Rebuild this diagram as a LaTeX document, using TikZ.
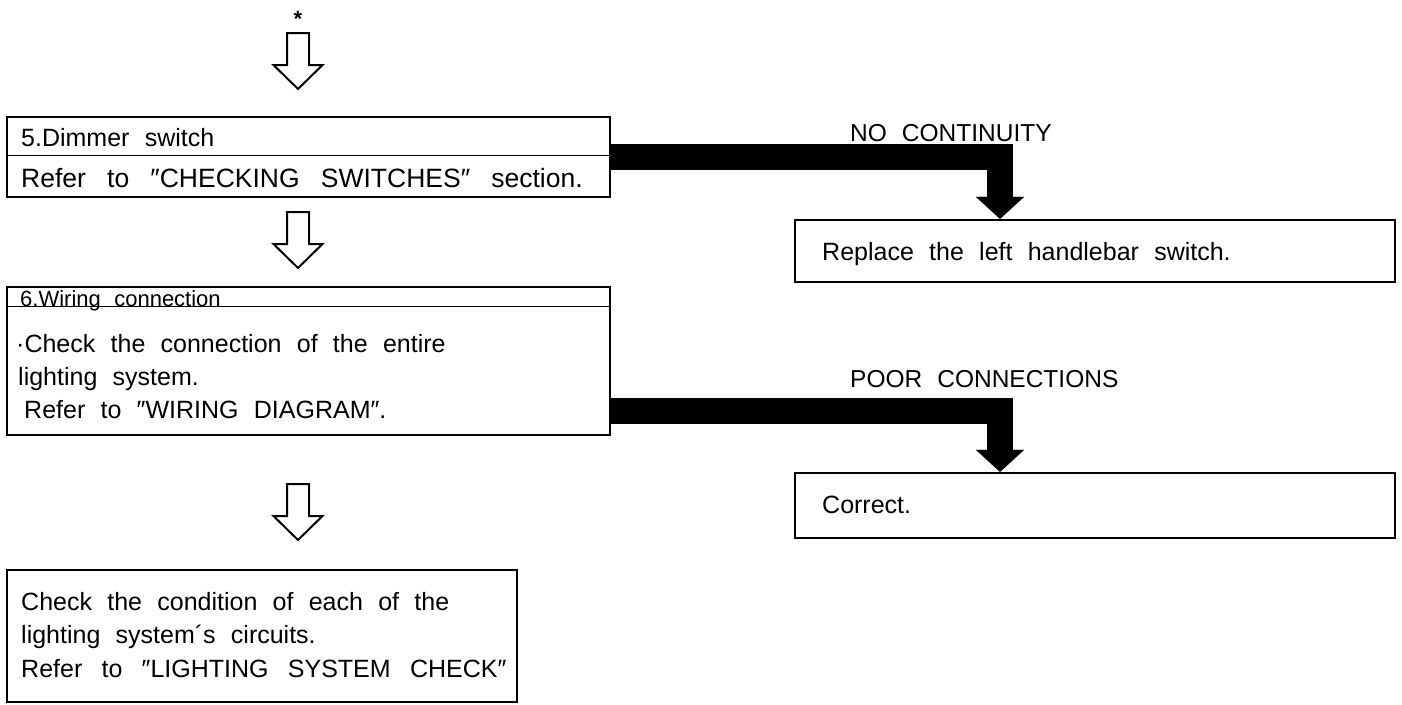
\documentclass[tikz,border=0pt]{standalone}
\usepackage{fontspec}
\setmainfont[WordSpace={2.2}]{Liberation Sans}
\usetikzlibrary{arrows.meta}
\newcommand{\wsp}{\hspace{5pt}}
\begin{document}
\begin{tikzpicture}[x=1pt,y=-1pt,
  box/.style={draw, line width=2.2pt, inner sep=0pt},
  divider/.style={line width=1pt},
  txt/.style={anchor=base west, inner sep=0pt, font=\fontsize{25}{30}\selectfont},
  bigtxt/.style={anchor=base west, inner sep=0pt, font=\fontsize{26.5}{30}\selectfont},
  hdr/.style={anchor=base west, inner sep=0pt, font=\fontsize{22}{28}\selectfont},
  lbl/.style={anchor=base west, inner sep=0pt, font=\fontsize{24.5}{28}\selectfont},
  bigarrow/.style={line width=26pt, line join=miter,
    -{Triangle[width=48pt,length=22pt,line width=0.01pt]}},
  hollow/.pic={\draw[line width=2pt, line join=miter]
    (-11,0) -- (11,0) -- (11,32) -- (24.5,32) -- (0,56) -- (-24.5,32) -- (-11,32) -- cycle;}]
\useasboundingbox (0,0) rectangle (1402,704);

% top marker and hollow arrows
\node[anchor=base, inner sep=0pt, font=\fontsize{22}{22}\selectfont\bfseries] (star) at (298,26) {*};
\pic at (298,33) {hollow};
\pic at (298,212) {hollow};
\pic at (298,484) {hollow};

% box 1
\node[box, minimum width=603pt, minimum height=80pt] (b1) at (308.5,157) {};
\draw[divider] (b1.west |- 0,155) -- (b1.east |- 0,155);
\node[txt] (t1a) at (21,146) {5.Dimmer switch};
\node[bigtxt] (t1b) at (21,187) {Refer\wsp{} to\wsp{} ″CHECKING\wsp{} SWITCHES″\wsp{} section.};

% box 2
\node[box, minimum width=603pt, minimum height=148pt] (b2) at (308.5,361) {};
\draw[divider] (b2.west |- 0,306) -- (b2.east |- 0,306);
\node[hdr] (t2a) at (20,306) {6.Wiring connection};
\node[txt] (t2b) at (16,352) {·Check the connection of the entire};
\node[txt] (t2c) at (18,385) {lighting system.};
\node[txt] (t2d) at (24,418) {Refer to ″WIRING DIAGRAM″.};

% box 3
\node[box, minimum width=510pt, minimum height=132pt] (b3) at (262,636) {};
\node[txt] (t3a) at (21,610) {Check the condition of each of the};
\node[txt] (t3b) at (21,643) {lighting system´s circuits.};
\node[txt] (t3c) at (21,677) {Refer\hspace{4pt} to\hspace{4pt} ″LIGHTING\hspace{4pt} SYSTEM\hspace{4pt} CHECK″};

% right boxes
\node[box, minimum width=600pt, minimum height=62pt] (r1) at (1095,251) {};
\node[txt] (tr1) at (822,260) {Replace the left handlebar switch.};
\node[box, minimum width=600pt, minimum height=65pt] (r2) at (1095,505.5) {};
\node[txt] (tr2) at (822,513) {Correct.};

% labels
\node[lbl] (l1) at (850,141) {NO CONTINUITY};
\node[lbl] (l2) at (850,387) {POOR CONNECTIONS};

% thick connectors
\draw[bigarrow] (b1.east) -| ([xshift=-95pt]r1.north);
\draw[bigarrow] ([yshift=-49.5pt]b2.east) -| ([xshift=-95pt]r2.north);
\end{tikzpicture}
\end{document}
